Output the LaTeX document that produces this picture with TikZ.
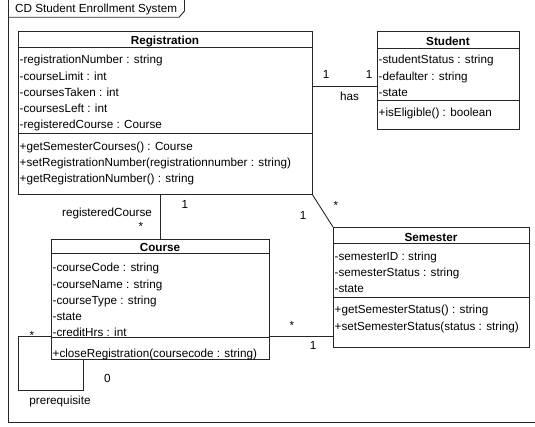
\documentclass[tikz,border=0pt]{standalone}
\usepackage{fontspec}
\setmainfont{Liberation Sans}
\begin{document}
\begin{tikzpicture}[x=1pt,y=-1pt,
  umlbox/.style={draw=black!85, line width=0.9pt, anchor=north west, inner sep=0pt, outer sep=0pt},
  member/.style={anchor=west, inner sep=0pt, text height=10pt, text depth=0pt, font=\fontsize{11.7}{14}\selectfont},
  cname/.style={anchor=center, inner sep=0pt, text height=10pt, text depth=0pt, font=\fontsize{11.7}{14}\selectfont\bfseries},
  lbl/.style={inner sep=0pt, font=\fontsize{11.7}{14}\selectfont},
  conn/.style={draw=black!85, line width=0.9pt},
  frame/.style={draw=black!85, line width=0.9pt}]
\useasboundingbox (0,0) rectangle (535,427);
% frame
\coordinate (ftl) at (8,-2);
\coordinate (fbl) at (8,422);
\coordinate (fbr) at (536,422);
\draw[frame] (ftl) -- (fbl) -- (fbr);
\coordinate (t1) at (8,17.3);
\coordinate (t2) at (179,17.3);
\coordinate (t3) at (184.5,11);
\coordinate (t4) at (184.5,-2);
\draw[frame] (t1) -- (t2) -- (t3) -- (t4);
\node[lbl, anchor=west] (title) at (15,9) {CD Student Enrollment System};

% Registration
\node[umlbox, minimum width=294pt, minimum height=163pt] (reg) at (18,31) {};
\draw[conn] ([yshift=-16pt]reg.north west) -- ([yshift=-16pt]reg.north east);
\draw[conn] ([yshift=-102pt]reg.north west) -- ([yshift=-102pt]reg.north east);
\node[cname] (regn) at (165,40) {Registration};
\node[member] (ra1) at (19.5,59) {-registrationNumber : string};
\node[member] (ra2) at (19.5,75.2) {-courseLimit : int};
\node[member] (ra3) at (19.5,91.4) {-coursesTaken : int};
\node[member] (ra4) at (19.5,107.6) {-coursesLeft : int};
\node[member] (ra5) at (19.5,124) {-registeredCourse : Course};
\node[member] (rm1) at (19.5,145.5) {+getSemesterCourses() : Course};
\node[member] (rm2) at (19.5,161.7) {+setRegistrationNumber(registrationnumber : string)};
\node[member] (rm3) at (19.5,178) {+getRegistrationNumber() : string};

% Student
\node[umlbox, minimum width=142pt, minimum height=98pt] (stu) at (377,31) {};
\draw[conn] ([yshift=-17pt]stu.north west) -- ([yshift=-17pt]stu.north east);
\draw[conn] ([yshift=-69pt]stu.north west) -- ([yshift=-69pt]stu.north east);
\node[cname] (stun) at (448,40.5) {Student};
\node[member] (sa1) at (378.5,59) {-studentStatus : string};
\node[member] (sa2) at (378.5,75.2) {-defaulter : string};
\node[member] (sa3) at (378.5,91.4) {-state};
\node[member] (sm1) at (378.5,112) {+isEligible() : boolean};

% Course
\node[umlbox, minimum width=218pt, minimum height=120pt] (crs) at (51,239) {};
\draw[conn] ([yshift=-14pt]crs.north west) -- ([yshift=-14pt]crs.north east);
\draw[conn] ([yshift=-98pt]crs.north west) -- ([yshift=-98pt]crs.north east);
\node[cname] (crsn) at (160,247) {Course};
\node[member] (ca1) at (52.5,267) {-courseCode : string};
\node[member] (ca2) at (52.5,283.2) {-courseName : string};
\node[member] (ca3) at (52.5,299.4) {-courseType : string};
\node[member] (ca4) at (52.5,315.6) {-state};
\node[member] (ca5) at (52.5,331.5) {-creditHrs : int};
\node[member] (cm1) at (52.5,352.5) {+closeRegistration(coursecode : string)};

% Semester
\node[umlbox, minimum width=196pt, minimum height=120pt] (sem) at (333,227) {};
\draw[conn] ([yshift=-16pt]sem.north west) -- ([yshift=-16pt]sem.north east);
\draw[conn] ([yshift=-70pt]sem.north west) -- ([yshift=-70pt]sem.north east);
\node[cname] (semn) at (431,237) {Semester};
\node[member] (ea1) at (334.5,255.5) {-semesterID : string};
\node[member] (ea2) at (334.5,271.7) {-semesterStatus : string};
\node[member] (ea3) at (334.5,288) {-state};
\node[member] (em1) at (334.5,309) {+getSemesterStatus() : string};
\node[member] (em2) at (334.5,325.5) {+setSemesterStatus(status : string)};

% Registration -- Student
\draw[conn] ([yshift=26.5pt]reg.east) -- ([yshift=-6pt]stu.west);
\node[lbl] (l1) at (326,74) {1};
\node[lbl] (l2) at (369,74) {1};
\node[lbl] (lhas) at (349.5,96) {has};

% Registration -- Course
\draw[conn] (crs.north) -- (crs.north |- reg.south);
\node[lbl] (l3) at (185,204.5) {1};
\node[lbl] (lrc) at (107,213.5) {registeredCourse};
\node[lbl] (l4) at (141,226) {*};

% Registration -- Semester
\draw[conn] (reg.south east) -- (sem.north west);
\node[lbl] (l5) at (303,215) {1};
\node[lbl] (l6) at (336,205) {*};

% Course -- Semester
\draw[conn] ([yshift=-37pt]crs.east) -- ([yshift=-49pt]sem.west);
\node[lbl] (l7) at (292,325) {*};
\node[lbl] (l8) at (313,345.5) {1};

% self loop
\coordinate (p1) at (18,336);
\coordinate (p2) at (18,390);
\coordinate (p3) at (83,390);
\draw[conn] ([yshift=-37pt]crs.west) -- (p1) -- (p2) -- (p3) -- ([xshift=-77pt]crs.south);
\node[lbl] (l9) at (32,335) {*};
\node[lbl] (l10) at (107.5,378.5) {0};
\node[lbl] (lpre) at (60,401) {prerequisite};
\end{tikzpicture}
\end{document}
